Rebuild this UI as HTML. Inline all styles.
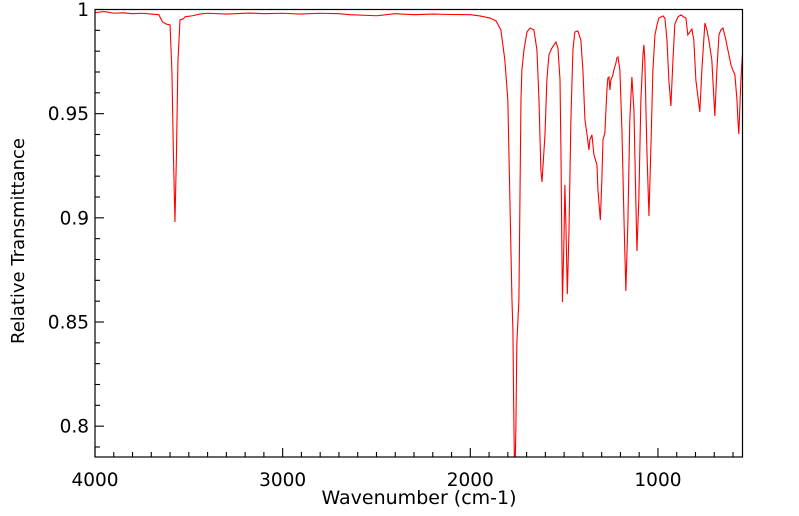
<!DOCTYPE html>
<html><head><meta charset="utf-8"><style>
html,body{margin:0;padding:0;background:#fff;}
svg{display:block;font-family:"DejaVu Sans","Liberation Sans",sans-serif;}
</style></head><body>
<svg id="chart" width="799" height="516" viewBox="0 0 799 516" xmlns="http://www.w3.org/2000/svg">
<defs><clipPath id="clip"><rect x="95" y="9.5" width="647.5" height="447.5"/></clipPath></defs>
<g id="ticks"></g>
<g id="labels"></g>
<path id="spectrum" fill="none" stroke="#ff0000" stroke-width="1.1" clip-path="url(#clip)"/>
<rect x="95" y="9.5" width="647.5" height="447.5" fill="none" stroke="#000" stroke-width="1.2"/>
<text x="419" y="504" font-size="19" text-anchor="middle">Wavenumber (cm-1)</text>
<text x="24" y="241" font-size="18" text-anchor="middle" transform="rotate(-90 24 241)">Relative Transmittance</text>
</svg>
<script>
const wavenumbers=[4000,3950,3900,3850,3800,3750,3700,3660,3640,3620,3600,3590,3582,3574,3566,3558,3547,3530,3520,3480,3441,3400,3300,3174,3100,3000,2908,2800,2700,2641,2500,2400,2300,2200,2109,2000,1949,1895,1863,1837,1816,1800,1789,1778,1773,1769,1763,1757,1752,1741,1730,1725,1714,1698,1682,1661,1645,1634,1624,1618,1602,1592,1581,1565,1554,1544,1533,1522,1517,1512,1509,1501,1496,1490,1483,1474,1464,1453,1443,1427,1411,1400,1389,1379,1368,1363,1352,1341,1325,1320,1307,1299,1293,1283,1272,1267,1261,1256,1251,1240,1235,1224,1219,1213,1203,1192,1181,1171,1160,1150,1139,1128,1118,1112,1102,1091,1080,1075,1070,1059,1048,1038,1027,1016,1005,995,984,973,963,952,942,931,920,910,894,878,862,851,841,830,819,809,798,777,766,750,739,729,713,697,686,675,665,654,638,633,622,611,601,590,579,574,569,558,549];
const transmittance=[.9985,.9990,.9982,.9984,.9980,.9982,.9978,.9975,.9940,.9930,.9926,.970,.93,.898,.93,.975,.9950,.9955,.9965,.9970,.9978,.9982,.9978,.9983,.9980,.9982,.9978,.9982,.9980,.9975,.9970,.9980,.9975,.9978,.9976,.9975,.9969,.9959,.9945,.9902,.9758,.9566,.9086,.8606,.8462,.81,.77,.80,.84,.8606,.9566,.971,.9806,.9892,.9911,.9902,.9806,.9566,.9230,.9172,.940,.9662,.9782,.9815,.983,.9844,.9815,.9662,.9326,.8846,.8596,.8894,.9158,.8942,.8634,.8942,.947,.9806,.9892,.9897,.9854,.971,.947,.9407,.9326,.9374,.9398,.9302,.9254,.9134,.899,.9182,.9374,.9407,.9614,.9671,.9676,.9614,.9662,.9686,.971,.9743,.9767,.9772,.971,.9422,.8990,.8649,.899,.947,.9676,.9518,.9086,.8841,.9086,.9566,.9782,.983,.9758,.9326,.9009,.9326,.9710,.9878,.9926,.9959,.9964,.9969,.9959,.9854,.9662,.9537,.9758,.993,.9964,.9974,.9964,.9959,.9878,.9892,.9906,.9854,.9662,.9508,.9710,.9935,.9902,.9854,.9758,.9489,.971,.9878,.9902,.9911,.9854,.983,.9782,.9734,.971,.9686,.9566,.947,.9402,.9662,.9796];
const xTickLabels=["4000","3000","2000","1000"];
const yTickLabels=["1","0.95","0.9","0.85","0.8"];
const X0=95,X1=742.5,Y0=9.5,Y1=457;
const xMax=4000,xMin=549.5,yMax=1,yMin=0.7852;
function xs(w){return X0+(xMax-w)/(xMax-xMin)*(X1-X0);}
function ys(t){return Y0+(yMax-t)/(yMax-yMin)*(Y1-Y0);}
const NS="http://www.w3.org/2000/svg";
let d="";
for(let i=0;i<wavenumbers.length;i++){d+=(i?"L":"M")+xs(wavenumbers[i]).toFixed(2)+","+ys(transmittance[i]).toFixed(2);}
document.getElementById('spectrum').setAttribute('d',d);
const tg=document.getElementById('ticks'),lg=document.getElementById('labels');
function line(x1,y1,x2,y2){const l=document.createElementNS(NS,'line');l.setAttribute('x1',x1);l.setAttribute('y1',y1);l.setAttribute('x2',x2);l.setAttribute('y2',y2);l.setAttribute('stroke','#000');l.setAttribute('stroke-width','1.1');


tg.appendChild(l);}
for(let w=4000;w>=600;w-=100){const x=xs(w);const major=w%1000===0;line(x,Y1,x,Y1-(major?9:5));}
for(let k=0;k<=21;k++){const t=1-k*0.01;if(t<yMin)break;const y=ys(t);const major=k%5===0;line(X0,y,X0+(major?9:5),y);}
xTickLabels.forEach(s=>{const t=document.createElementNS(NS,'text');t.setAttribute('x',xs(+s));t.setAttribute('y',486);t.setAttribute('font-size','18.5');t.setAttribute('text-anchor','middle');t.textContent=s;


lg.appendChild(t);});
yTickLabels.forEach(s=>{const t=document.createElementNS(NS,'text');t.setAttribute('x',89);t.setAttribute('y',ys(+s)+6.5);t.setAttribute('font-size','18.5');t.setAttribute('text-anchor','end');t.textContent=s;


lg.appendChild(t);});
</script>
</body></html>
